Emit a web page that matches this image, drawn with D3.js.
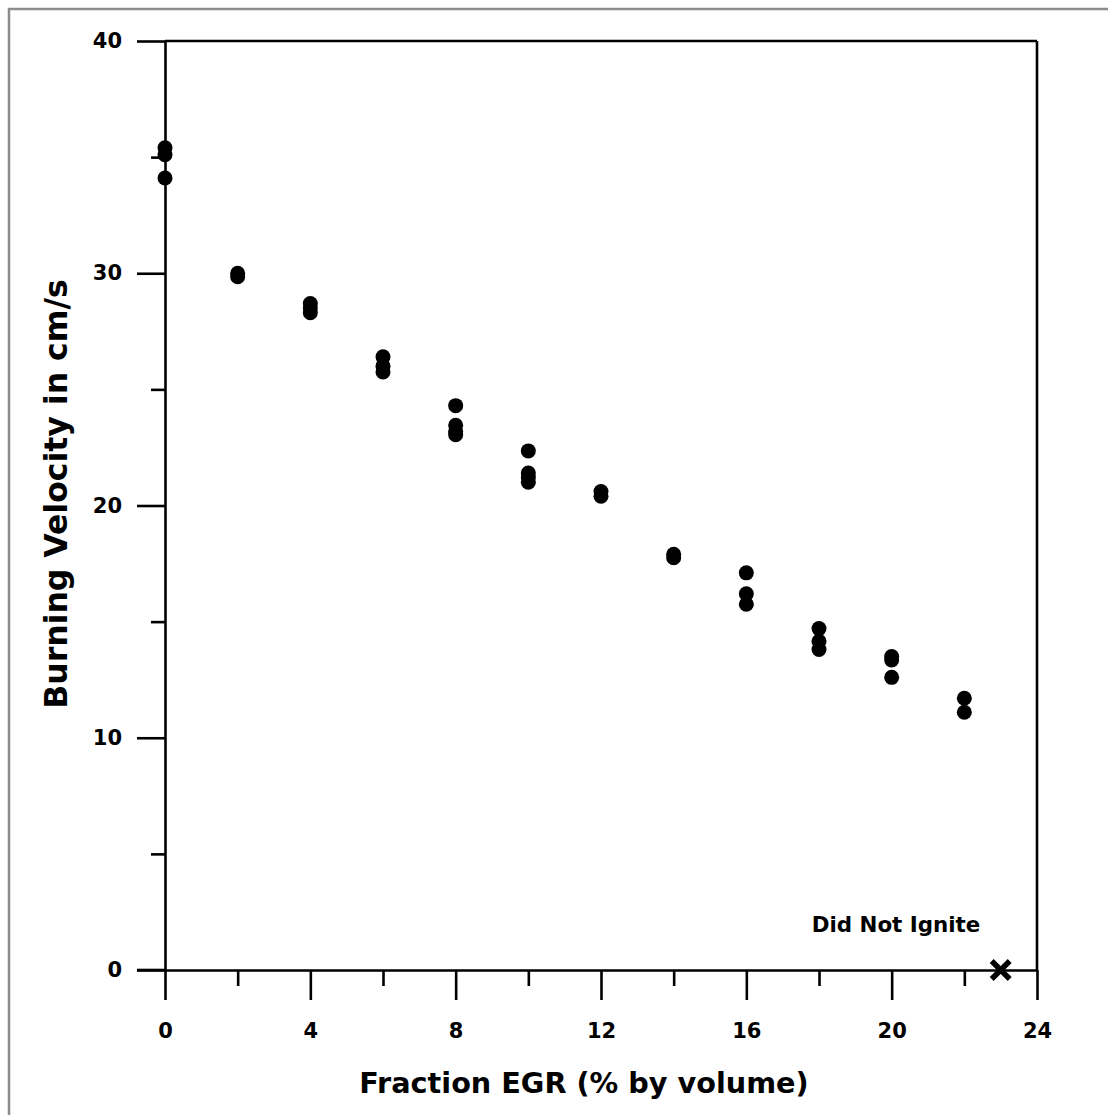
<!DOCTYPE html>
<html>
<head>
<meta charset="utf-8">
<script src="https://cdn.jsdelivr.net/npm/d3@7"></script>
<style>
  html, body { margin: 0; padding: 0; background: #fff; }
  svg { display: block; }
  text { font-family: "DejaVu Sans", Verdana, sans-serif; font-weight: bold; fill: #000; }
</style>
</head>
<body>
<script>
// ---- data ----
const egrFraction = [0, 0, 0, 2, 2, 4, 4, 4, 6, 6, 6, 8, 8, 8, 8, 10, 10, 10, 10, 12, 12, 14, 14, 16, 16, 16, 18, 18, 18, 20, 20, 20, 22, 22];
const burningVelocity = [35.4, 35.1, 34.1, 30.0, 29.85, 28.7, 28.5, 28.3, 26.4, 26.0, 25.75, 24.3, 23.45, 23.2, 23.05, 22.35, 21.4, 21.2, 21.0, 20.6, 20.4, 17.9, 17.75, 17.1, 16.2, 15.75, 14.7, 14.15, 13.8, 13.5, 13.35, 12.6, 11.7, 11.1];
const notIgnited = [{ egr: 23, v: 0 }];
const notIgnitedLabel = "Did Not Ignite";
const xMajorTicks = [0, 4, 8, 12, 16, 20, 24];
const xMinorTicks = [2, 6, 10, 14, 18, 22];
const yMajorTicks = [0, 10, 20, 30, 40];
const yMinorTicks = [5, 15, 25, 35];
const xTitle = "Fraction EGR (% by volume)";
const yTitle = "Burning Velocity in cm/s";

const W = 1108, H = 1115;
const svg = d3.select("body").append("svg").attr("width", W).attr("height", H);

// outer gray frame (right/bottom edges fall outside the picture)
svg.append("rect").attr("x", 9).attr("y", 9).attr("width", 1300).attr("height", 1300)
  .attr("fill", "none").attr("stroke", "#8c8c8c").attr("stroke-width", 2.5);

const x = d3.scaleLinear().domain([0, 24]).range([165, 1037]);
const y = d3.scaleLinear().domain([0, 40]).range([970, 41]);

const axisStroke = 2.6;

// frame top and right
svg.append("line").attr("x1", x(0)).attr("x2", x(24)).attr("y1", y(40)).attr("y2", y(40))
  .attr("stroke", "#000").attr("stroke-width", axisStroke);
svg.append("line").attr("x1", x(24)).attr("x2", x(24)).attr("y1", y(40)).attr("y2", y(0))
  .attr("stroke", "#000").attr("stroke-width", axisStroke);

function styleAxis(g) {
  g.select(".domain").attr("stroke", "#000").attr("stroke-width", axisStroke);
  g.selectAll(".tick line").attr("stroke", "#000").attr("stroke-width", axisStroke);
  g.selectAll(".tick text").attr("font-family", "DejaVu Sans, Verdana, sans-serif")
    .attr("font-weight", "bold").attr("font-size", 21).attr("fill", "#000");
}

// y axis
const yAxisG = svg.append("g").attr("transform", `translate(${x(0)},0)`)
  .call(d3.axisLeft(y).tickValues(yMajorTicks).tickSize(28).tickSizeOuter(0).tickPadding(15).tickFormat(d3.format("d")));
styleAxis(yAxisG);
const yMinorG = svg.append("g").attr("transform", `translate(${x(0)},0)`)
  .call(d3.axisLeft(y).tickValues(yMinorTicks).tickSize(14).tickSizeOuter(0).tickFormat(""));
styleAxis(yMinorG);
yMinorG.select(".domain").remove();

// x axis
const xAxisG = svg.append("g").attr("transform", `translate(0,${y(0)})`)
  .call(d3.axisBottom(x).tickValues(xMajorTicks).tickSize(30).tickSizeOuter(0).tickPadding(23).tickFormat(d3.format("d")));
styleAxis(xAxisG);
const xMinorG = svg.append("g").attr("transform", `translate(0,${y(0)})`)
  .call(d3.axisBottom(x).tickValues(xMinorTicks).tickSize(16).tickSizeOuter(0).tickFormat(""));
styleAxis(xMinorG);
xMinorG.select(".domain").remove();
// x axis line extends left to the 0 tick of the y axis
svg.append("line").attr("x1", x(0) - 28).attr("x2", x(0)).attr("y1", y(0)).attr("y2", y(0))
  .attr("stroke", "#000").attr("stroke-width", axisStroke);

// points
svg.append("g").selectAll("circle")
  .data(egrFraction.map((e, i) => ({ egr: e, v: burningVelocity[i] })))
  .join("circle")
  .attr("cx", d => x(d.egr)).attr("cy", d => y(d.v)).attr("r", 7.5).attr("fill", "#000");

// did-not-ignite marker
const s = 9;
const xm = svg.append("g").selectAll("g").data(notIgnited).join("g")
  .attr("transform", d => `translate(${x(d.egr)},${y(d.v)})`);
xm.append("line").attr("x1", -s).attr("y1", -s).attr("x2", s).attr("y2", s).attr("stroke", "#000").attr("stroke-width", 5.5);
xm.append("line").attr("x1", -s).attr("y1", s).attr("x2", s).attr("y2", -s).attr("stroke", "#000").attr("stroke-width", 5.5);

svg.append("text").attr("x", x(20.12)).attr("y", y(1.65)).attr("text-anchor", "middle")
  .attr("font-size", 21.4).text(notIgnitedLabel);

// titles
svg.append("text").attr("x", 584).attr("y", 1093).attr("text-anchor", "middle")
  .attr("font-size", 28.7).text(xTitle);
svg.append("text").attr("transform", "translate(67,494) rotate(-90)").attr("text-anchor", "middle")
  .attr("font-size", 31.5).text(yTitle);
</script>
</body>
</html>
